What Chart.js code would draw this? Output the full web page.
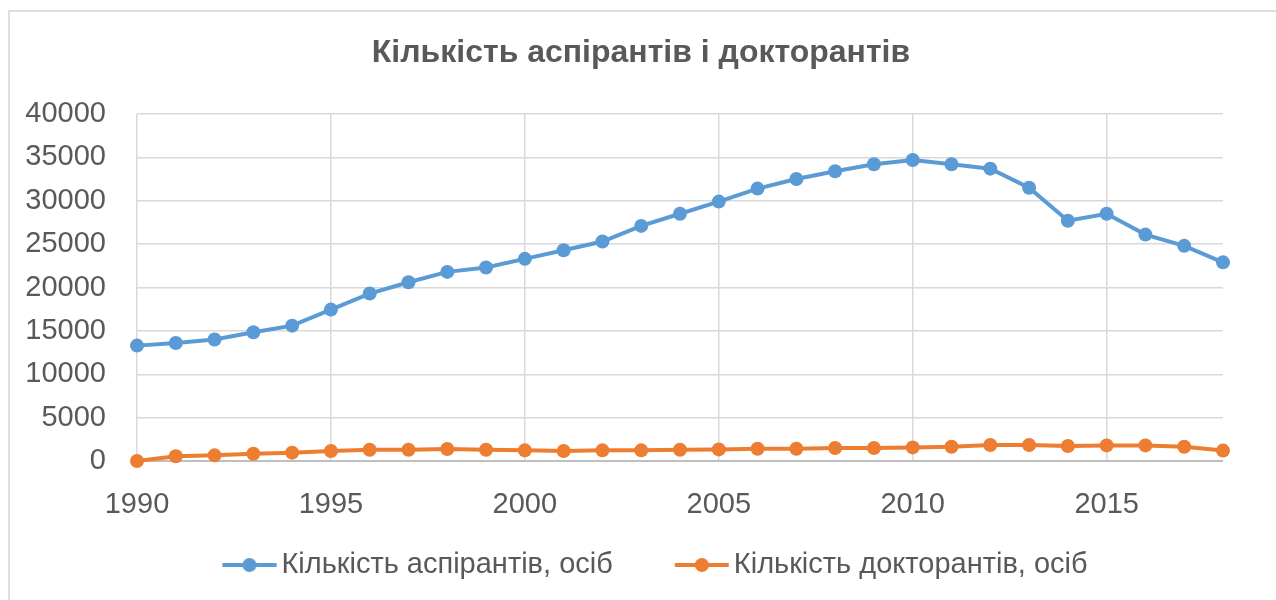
<!DOCTYPE html>
<html>
<head>
<meta charset="utf-8">
<script src="https://cdn.jsdelivr.net/npm/chart.js@4"></script>
<style>
  html, body { margin: 0; padding: 0; background: #fff; overflow: hidden; }
  #wrap { position: relative; width: 1276px; height: 600px; }
  #frame { position: absolute; left: 8px; top: 10px; width: 1400px; height: 700px;
           border: 2px solid #dedede; box-sizing: border-box; }
  canvas { position: absolute; left: 0; top: 0; }
</style>
</head>
<body>
<div id="wrap">
  <div id="frame"></div>
  <canvas id="chart" width="1276" height="600"></canvas>
</div>
<script>
const years = [1990, 1991, 1992, 1993, 1994, 1995, 1996, 1997, 1998, 1999,
               2000, 2001, 2002, 2003, 2004, 2005, 2006, 2007, 2008, 2009,
               2010, 2011, 2012, 2013, 2014, 2015, 2016, 2017, 2018];
const aspirants = [13300, 13600, 14000, 14850, 15600, 17450, 19300, 20600, 21800, 22300,
                   23300, 24300, 25300, 27100, 28500, 29900, 31400, 32500, 33400, 34200,
                   34700, 34200, 33700, 31500, 27700, 28500, 26100, 24800, 22900];
const doctorants = [0, 540, 650, 840, 960, 1150, 1300, 1300, 1380, 1300,
                    1230, 1150, 1230, 1230, 1300, 1340, 1420, 1420, 1500, 1500,
                    1570, 1650, 1840, 1840, 1730, 1800, 1800, 1650, 1200];
const seriesNames = ['Кількість аспірантів, осіб', 'Кількість докторантів, осіб'];
const chartTitle = 'Кількість аспірантів і докторантів';

const blue = '#5b9bd5';
const orange = '#ed7d31';
const textColor = '#595959';
const fontFamily = '"Liberation Sans", Arial, sans-serif';

// legend glyph: line with a dot in the middle (left part of the image is empty)
function legendGlyph(color){
    const c = document.createElement('canvas');
    c.width = 92;
    c.height = 16;
    const g = c.getContext('2d');
    g.strokeStyle = color;
    g.lineWidth = 4;
    g.beginPath();
    g.moveTo(37.75, 8);
    g.lineTo(91.75, 8);
    g.stroke();
    g.fillStyle = color;
    g.beginPath();
    g.arc(64.75, 8, 7, 0, Math.PI * 2);
    g.fill();
    return c;
}
const glyphs = [legendGlyph(blue), legendGlyph(orange)];

function toPoints(vals){
    return vals.map((v, i) => ({x: years[i], y: v}));
}

const ctx = document.getElementById('chart').getContext('2d');
const myChart = new Chart(ctx, {
    type: 'line',
    data: {
        datasets: [
            {
                label: seriesNames[0],
                data: toPoints(aspirants),
                borderColor: blue,
                backgroundColor: blue,
                borderWidth: 4,
                pointRadius: 7,
                pointBorderWidth: 0,
                pointBackgroundColor: blue,
                tension: 0,
                clip: false
            },
            {
                label: seriesNames[1],
                data: toPoints(doctorants),
                borderColor: orange,
                backgroundColor: orange,
                borderWidth: 4,
                pointRadius: 7,
                pointBorderWidth: 0,
                pointBackgroundColor: orange,
                tension: 0,
                clip: false
            }
        ]
    },
    options: {
        responsive: false,
        animation: false,
        layout: { padding: { left: 20, right: 14, top: 0, bottom: 10.5 } },
        plugins: {
            title: {
                display: true,
                text: chartTitle,
                color: textColor,
                font: { family: fontFamily, size: 32, weight: 'bold' },
                padding: { top: 34, bottom: 41.6 }
            },
            legend: {
                position: 'bottom',
                labels: {
                    usePointStyle: true,
                    pointStyleWidth: 72.5,
                    padding: 34,
                    color: textColor,
                    font: { family: fontFamily, size: 29 },
                    generateLabels: (chart) => chart.data.datasets.map((ds, i) => ({
                        text: ds.label,
                        pointStyle: glyphs[i],
                        fillStyle: ds.borderColor,
                        strokeStyle: ds.borderColor,
                        lineWidth: 0,
                        fontColor: textColor,
                        datasetIndex: i
                    }))
                }
            },
            tooltip: { enabled: false }
        },
        scales: {
            x: {
                type: 'linear',
                min: 1990,
                max: 2018,
                afterFit: (scale) => { scale.height = 55.5; },
                ticks: {
                    stepSize: 5,
                    includeBounds: false,
                    padding: 27,
                    color: textColor,
                    font: { family: fontFamily, size: 29 },
                    callback: (v) => String(v)
                },
                grid: { color: '#d9d9d9', lineWidth: 1.5, drawTicks: false },
                border: { display: false }
            },
            y: {
                min: 0,
                max: 40000,
                afterFit: (scale) => { scale.width = 117; },
                ticks: {
                    stepSize: 5000,
                    padding: 31,
                    color: textColor,
                    font: { family: fontFamily, size: 29 },
                    callback: (v) => String(v)
                },
                grid: {
                    color: (c) => c.tick && c.tick.value === 0 ? '#bfbfbf' : '#d9d9d9',
                    lineWidth: (c) => c.tick && c.tick.value === 0 ? 2 : 1.5,
                    drawTicks: false
                },
                border: { display: false }
            },
            // empty spacer on the right so the plot ends where the original does
            spacer: {
                type: 'linear',
                position: 'right',
                afterFit: (scale) => { scale.width = 39; },
                ticks: { display: false },
                grid: { display: false },
                border: { display: false }
            }
        }
    }
});
</script>
</body>
</html>
